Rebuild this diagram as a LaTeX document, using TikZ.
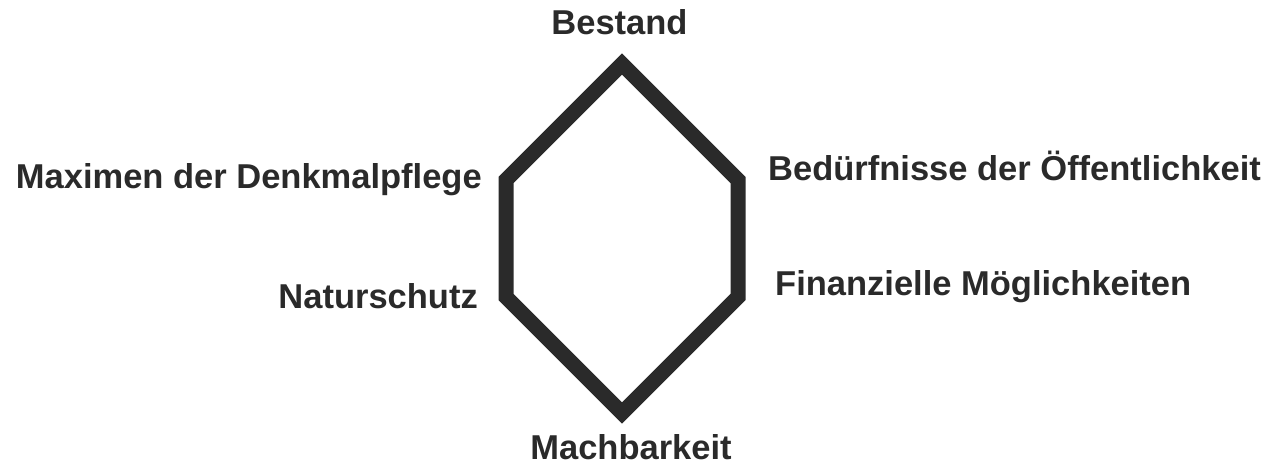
\documentclass[tikz,border=0pt]{standalone}
\usepackage{fontspec}
\setmainfont{Liberation Sans}
\definecolor{ink}{HTML}{2A2A2A}
\tikzset{
  lbl/.style={font=\fontsize{34.5}{40}\selectfont\bfseries, text=ink, inner sep=0pt},
  hexline/.style={draw=ink, line width=15pt, line join=miter}
}
\begin{document}
\begin{tikzpicture}[x=1pt,y=-1pt]
\useasboundingbox (0,0) rectangle (1288,465);
\coordinate (T) at (622,64);
\coordinate (UR) at (738,180);
\coordinate (LR) at (738,297);
\coordinate (B) at (622,413);
\coordinate (LL) at (506,297);
\coordinate (UL) at (506,180);
\draw[hexline] (T) -- (UR) -- (LR) -- (B) -- (LL) -- (UL) -- cycle;
\node[lbl, anchor=base] (bestand) at (619.5,35) {Bestand};
\node[lbl, anchor=base east] (maximen) at (482,189) {Maximen der Denkmalpflege};
\node[lbl, anchor=base east] (natur) at (478,308) {Naturschutz};
\node[lbl, anchor=base west] (bed) at (768,181) {Bedürfnisse der Öffentlichkeit};
\node[lbl, anchor=base west] (fin) at (775,295) {Finanzielle Möglichkeiten};
\node[lbl, anchor=base] (mach) at (631,459) {Machbarkeit};
\end{tikzpicture}
\end{document}
